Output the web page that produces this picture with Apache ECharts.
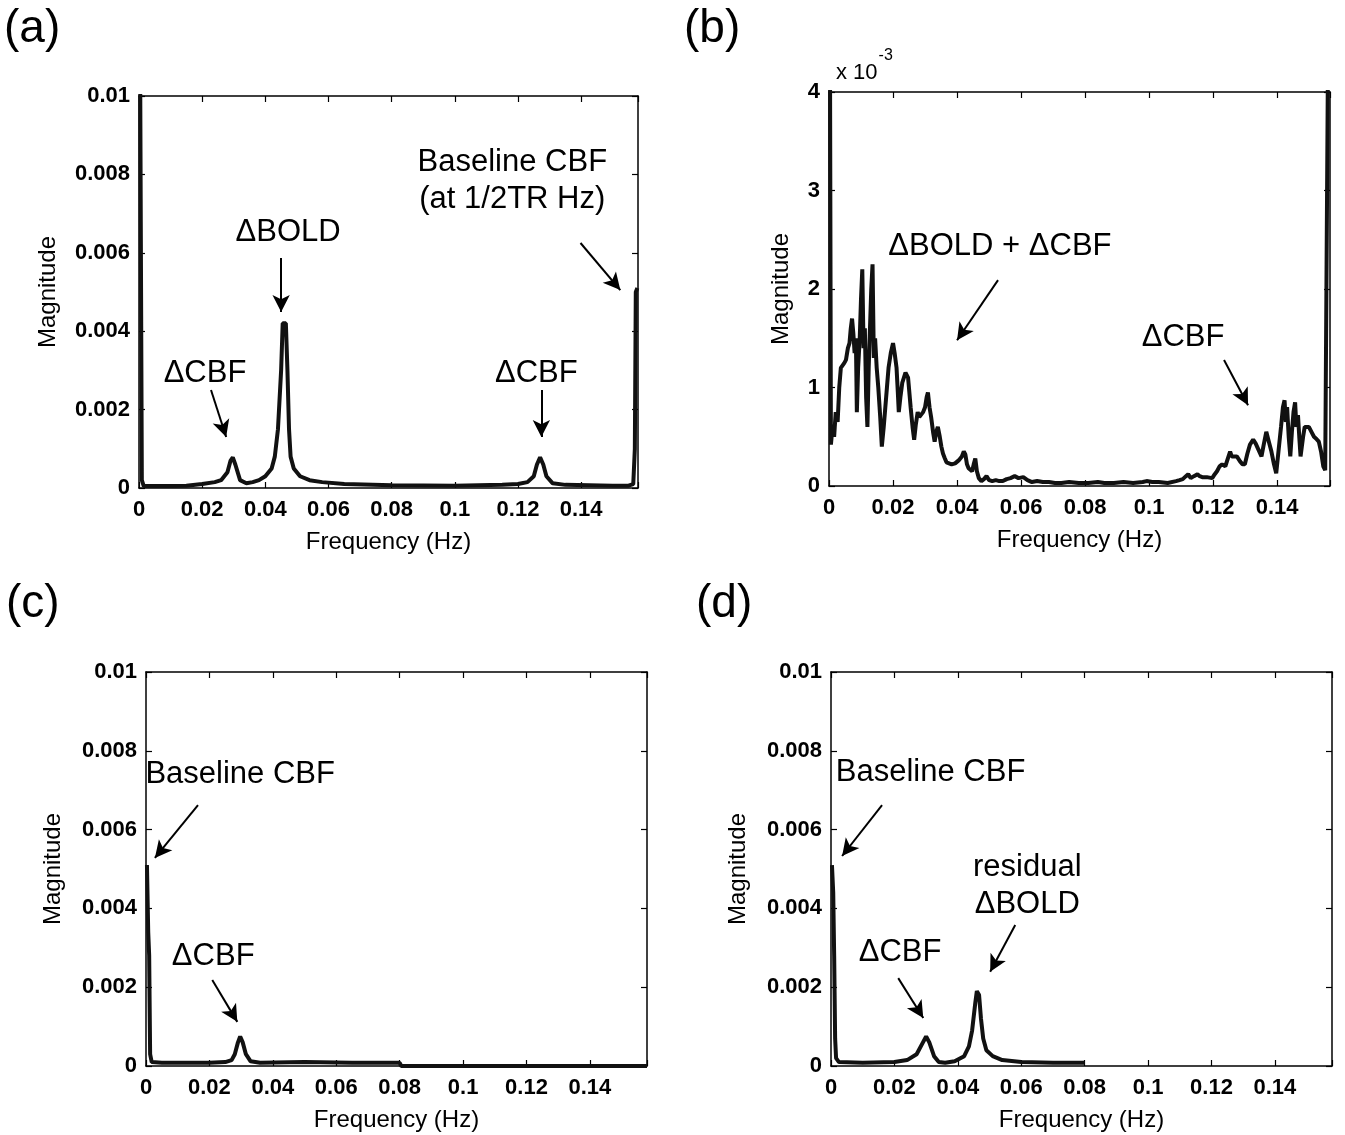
<!DOCTYPE html>
<html>
<head>
<meta charset="utf-8">
<title>Spectra</title>
<script src="https://cdn.jsdelivr.net/npm/echarts@6/dist/echarts.min.js"></script>
<style>
  html, body { margin: 0; padding: 0; background: #fff; }
  #chart { width: 1345px; height: 1135px; }
</style>
</head>
<body>
<div id="chart"></div>
<script>
// tick labels
const freqTicks = [0, 0.02, 0.04, 0.06, 0.08, 0.1, 0.12, 0.14]
const panelNames = ['(a)', '(b)', '(c)', '(d)']

// (a) raw spectrum
const freqA = [0.0003, 0.0006, 0.0009, 0.0015, 0.01, 0.015, 0.02, 0.024, 0.026, 0.028, 0.029, 0.0297, 0.0305, 0.032, 0.034,
  0.036, 0.038, 0.040, 0.042, 0.043, 0.044, 0.045, 0.0455, 0.0465, 0.047, 0.0475, 0.048, 0.049, 0.051, 0.054, 0.058,
  0.065, 0.08, 0.1, 0.115, 0.12, 0.123, 0.125, 0.126, 0.127, 0.128, 0.129, 0.131, 0.135, 0.15, 0.155, 0.1565, 0.157,
  0.1573, 0.1578]
const magA = [0.012, 0.012, 0.0002, 0.00005, 0.00005, 0.00006, 0.0001, 0.00015, 0.0002, 0.0004, 0.0007, 0.00078, 0.0006, 0.0002, 0.00012,
  0.00015, 0.0002, 0.0003, 0.0005, 0.0008, 0.0015, 0.003, 0.0042, 0.0042, 0.003, 0.0015, 0.0008, 0.0005, 0.0003, 0.0002, 0.00015,
  0.0001, 0.00007, 0.00006, 0.00008, 0.0001, 0.00015, 0.0003, 0.0006, 0.00078, 0.0006, 0.0003, 0.00012, 0.00008, 0.00006, 0.00006, 0.0001, 0.001,
  0.005, 0.0051]

// (b) magnitude in units of 1e-3
const freqB = [0.0003, 0.0006, 0.0011, 0.0016, 0.0021, 0.0027, 0.0032, 0.0037, 0.0043, 0.0048, 0.0053, 0.0059, 0.0064, 0.0068,
  0.0072, 0.0076, 0.0080, 0.0084, 0.0087, 0.0091, 0.0096, 0.0100, 0.0104, 0.0108, 0.0112, 0.0116, 0.0120, 0.0124, 0.0128,
  0.0132, 0.0136, 0.0140, 0.0144, 0.0149, 0.0154, 0.0160, 0.0165, 0.0171, 0.0176, 0.0181, 0.0186, 0.0193, 0.0200, 0.0205,
  0.0211, 0.0215, 0.0218, 0.0223, 0.0229, 0.0234, 0.0239, 0.0247, 0.0251, 0.0255, 0.0261, 0.0266, 0.0271, 0.0277, 0.0282,
  0.0287, 0.0294, 0.0300, 0.0305, 0.0309, 0.0314, 0.0319, 0.0325, 0.0330, 0.0335, 0.0340, 0.0346, 0.0351, 0.0356, 0.0362,
  0.0367, 0.0372, 0.0383, 0.0394, 0.0405, 0.0415, 0.0421, 0.0426, 0.0431, 0.0436, 0.0442, 0.0447, 0.0452, 0.0457, 0.0462,
  0.0468, 0.0476, 0.0484, 0.0492, 0.0500, 0.0510, 0.0521, 0.0532, 0.0543, 0.0555, 0.0567, 0.0580, 0.0592, 0.0607, 0.0620,
  0.0634, 0.0650, 0.0668, 0.0687, 0.0706, 0.0726, 0.0750, 0.0780, 0.0810, 0.0840, 0.0860, 0.0890, 0.0920, 0.0950, 0.0980,
  0.0992, 0.1010, 0.1030, 0.1058, 0.1084, 0.1095, 0.1105, 0.1115, 0.1122, 0.1130, 0.1140, 0.1151, 0.1158, 0.1166, 0.1180,
  0.1197, 0.1205, 0.1212, 0.1220, 0.1228, 0.1238, 0.1245, 0.1253, 0.1258, 0.1264, 0.1274, 0.1284, 0.1292, 0.1299, 0.1307,
  0.1315, 0.1325, 0.1333, 0.1340, 0.1351, 0.1358, 0.1366, 0.1374, 0.1382, 0.1390, 0.1397, 0.1404, 0.1412, 0.1418, 0.1423,
  0.1427, 0.1431, 0.1436, 0.1441, 0.1446, 0.1451, 0.1456, 0.1460, 0.1465, 0.1469, 0.1473, 0.1476, 0.1481, 0.1486, 0.1492,
  0.1499, 0.1507, 0.1515, 0.1522, 0.1530, 0.1537, 0.1544, 0.1550, 0.1556, 0.1559]
const magB = [4.5, 0.42, 0.6, 0.5, 0.75, 0.65, 1.0, 1.2, 1.22, 1.25, 1.28, 1.4, 1.45, 1.6,
  1.7, 1.55, 1.35, 1.5, 0.75, 1.2, 1.5, 1.9, 2.2, 1.4, 1.6, 0.9, 0.6, 1.2, 1.6,
  2.0, 2.25, 1.3, 1.5, 1.2, 1.0, 0.7, 0.4, 0.6, 0.8, 1.0, 1.2, 1.35, 1.45, 1.35,
  1.2, 0.95, 0.75, 0.9, 1.05, 1.1, 1.15, 1.1, 0.95, 0.8, 0.6, 0.47, 0.62, 0.75, 0.7,
  0.72, 0.75, 0.8, 0.9, 0.95, 0.8, 0.7, 0.55, 0.45, 0.55, 0.6, 0.5, 0.4, 0.33, 0.28,
  0.24, 0.22, 0.22, 0.23, 0.26, 0.3, 0.35, 0.32, 0.22, 0.18, 0.16, 0.15, 0.22, 0.28, 0.15,
  0.08, 0.05, 0.07, 0.1, 0.06, 0.05, 0.06, 0.05, 0.05, 0.07, 0.08, 0.1, 0.08, 0.09, 0.06,
  0.04, 0.05, 0.04, 0.04, 0.03, 0.03, 0.04, 0.03, 0.03, 0.04, 0.03, 0.03, 0.04, 0.03, 0.04,
  0.05, 0.04, 0.04, 0.03, 0.05, 0.06, 0.07, 0.1, 0.12, 0.08, 0.1, 0.12, 0.1, 0.09, 0.09,
  0.08, 0.12, 0.15, 0.2, 0.22, 0.2, 0.27, 0.35, 0.3, 0.28, 0.3, 0.25, 0.22, 0.22, 0.33,
  0.42, 0.47, 0.43, 0.38, 0.3, 0.42, 0.55, 0.45, 0.35, 0.22, 0.13, 0.35, 0.6, 0.8, 0.87,
  0.65, 0.8, 0.5, 0.3, 0.55, 0.75, 0.85, 0.6, 0.72, 0.5, 0.3, 0.28, 0.5, 0.6, 0.62,
  0.6, 0.55, 0.5, 0.48, 0.45, 0.35, 0.2, 0.16, 0.18, 4.5]

// (c) after filtering
const freqC = [0.0003, 0.0007, 0.001, 0.0013, 0.0018, 0.005, 0.02, 0.025, 0.027, 0.028, 0.029, 0.0297, 0.0305, 0.0315,
  0.033, 0.036, 0.05, 0.065, 0.08, 0.0805, 0.158]
const magC = [0.0051, 0.0034, 0.0028, 0.0003, 0.0001, 0.00008, 0.00008, 0.0001, 0.00015, 0.0003, 0.0006, 0.00075, 0.0006, 0.0003,
  0.00012, 0.00008, 0.0001, 0.00008, 0.00008, 0, 0]

// (d) after filtering, residual BOLD
const freqD = [0.0003, 0.0007, 0.001, 0.0013, 0.0016, 0.0025, 0.01, 0.02, 0.024, 0.027, 0.029, 0.03, 0.031, 0.0325, 0.034,
  0.036, 0.039, 0.042, 0.0435, 0.0445, 0.0455, 0.046, 0.0467, 0.0473, 0.048, 0.049, 0.051, 0.054, 0.06, 0.07, 0.08]
const magD = [0.0051, 0.0044, 0.0028, 0.0007, 0.0002, 0.0001, 0.00008, 0.0001, 0.00015, 0.0003, 0.0006, 0.00075, 0.0006, 0.00025, 0.0001,
  0.00008, 0.00012, 0.00025, 0.0005, 0.0009, 0.0016, 0.0019, 0.0018, 0.0012, 0.0007, 0.0004, 0.00025, 0.00015, 0.0001, 0.00008, 0.00008]

const FONT = 'Liberation Sans, Arial, sans-serif'

const grids = [
  { left: 139, top: 96, width: 499, height: 392 },
  { left: 829, top: 92, width: 501, height: 394 },
  { left: 146, top: 672, width: 501, height: 394 },
  { left: 831, top: 672, width: 501, height: 394 }
]
const xMax = [0.158, 0.1565, 0.158, 0.158]
const yRange = [[0.01, 0.002], [4, 1], [0.01, 0.002], [0.01, 0.002]]
const yNameGap = [79, 36, 81, 81]

function freqLabel (v) {
  const k = v / 0.02
  return Math.abs(k - Math.round(k)) < 1e-6 ? String(+v.toFixed(2)) : ''
}

const xAxes = []
const yAxes = []
grids.forEach((g, i) => {
  const tick = { show: true, inside: true, length: 6, lineStyle: { color: '#000', width: 1.2 } }
  const line = { show: true, onZero: false, lineStyle: { color: '#000', width: 1.5 } }
  xAxes.push({
    type: 'value', gridIndex: i, min: 0, max: xMax[i], interval: 0.02, position: 'bottom',
    name: 'Frequency (Hz)', nameLocation: 'middle', nameGap: 42,
    nameTextStyle: { fontFamily: FONT, fontSize: 24, color: '#000' },
    axisLine: line, axisTick: tick, splitLine: { show: false },
    axisLabel: { fontFamily: FONT, fontSize: 22, fontWeight: 'bold', color: '#000', margin: 11, formatter: freqLabel }
  })
  xAxes.push({
    type: 'value', gridIndex: i, min: 0, max: xMax[i], interval: 0.02, position: 'top',
    axisLine: line, axisTick: tick, splitLine: { show: false }, axisLabel: { show: false }
  })
  yAxes.push({
    type: 'value', gridIndex: i, min: 0, max: yRange[i][0], interval: yRange[i][1], position: 'left',
    name: 'Magnitude', nameLocation: 'middle', nameGap: yNameGap[i], nameRotate: 90,
    nameTextStyle: { fontFamily: FONT, fontSize: 24, color: '#000' },
    axisLine: line, axisTick: tick, splitLine: { show: false },
    axisLabel: { fontFamily: FONT, fontSize: 22, fontWeight: 'bold', color: '#000', margin: 9 }
  })
  yAxes.push({
    type: 'value', gridIndex: i, min: 0, max: yRange[i][0], interval: yRange[i][1], position: 'right',
    axisLine: line, axisTick: tick, splitLine: { show: false }, axisLabel: { show: false }
  })
})

function zip (xs, ys) {
  return xs.map((x, i) => [x, ys[i]])
}

// annotation text and arrows, in data coordinates of each panel
function notes (texts, arrows) {
  return {
    markPoint: {
      silent: true,
      symbol: 'circle',
      symbolSize: 1,
      itemStyle: { color: 'rgba(0,0,0,0)' },
      label: {
        show: true, position: 'inside', color: '#000', fontFamily: FONT, fontSize: 31, lineHeight: 37,
        formatter: p => p.name
      },
      data: texts.map(t => ({ name: t[0], coord: [t[1], t[2]] }))
    },
    markLine: {
      silent: true,
      symbol: ['none', 'arrow'],
      symbolSize: [13, 17],
      label: { show: false },
      lineStyle: { color: '#000', width: 2, type: 'solid' },
      data: arrows.map(a => [{ coord: [a[0], a[1]] }, { coord: [a[2], a[3]] }])
    }
  }
}

const lineStyle = { color: '#111', width: 4 }
const series = [
  Object.assign({
    type: 'line', xAxisIndex: 0, yAxisIndex: 0, data: zip(freqA, magA), showSymbol: false, symbol: 'none',
    lineStyle: lineStyle, clip: true
  }, notes(
    [['ΔCBF', 0.0209, 0.00293], ['ΔBOLD', 0.0472, 0.00653], ['ΔCBF', 0.1258, 0.00293],
      ['Baseline CBF\n(at 1/2TR Hz)', 0.1182, 0.00784]],
    [[0.0228, 0.0025, 0.0276, 0.0013], [0.045, 0.00587, 0.045, 0.00449], [0.1274, 0.0025, 0.1274, 0.0013],
      [0.1398, 0.00625, 0.1524, 0.00505]]
  )),
  Object.assign({
    type: 'line', xAxisIndex: 2, yAxisIndex: 2, data: zip(freqB, magB), showSymbol: false, symbol: 'none',
    lineStyle: lineStyle, clip: true
  }, notes(
    [['ΔBOLD + ΔCBF', 0.0534, 2.43], ['ΔCBF', 0.1106, 1.51]],
    [[0.0528, 2.09, 0.04, 1.48], [0.1234, 1.28, 0.1309, 0.82]]
  )),
  Object.assign({
    type: 'line', xAxisIndex: 4, yAxisIndex: 4, data: zip(freqC, magC), showSymbol: false, symbol: 'none',
    lineStyle: lineStyle, clip: true
  }, notes(
    [['Baseline CBF', 0.0297, 0.00739], ['ΔCBF', 0.0212, 0.00277]],
    [[0.0164, 0.00662, 0.0028, 0.00528], [0.0209, 0.00218, 0.0288, 0.00112]]
  )),
  Object.assign({
    type: 'line', xAxisIndex: 6, yAxisIndex: 6, data: zip(freqD, magD), showSymbol: false, symbol: 'none',
    lineStyle: lineStyle, clip: true
  }, notes(
    [['Baseline CBF', 0.0314, 0.00746], ['ΔCBF', 0.0218, 0.00287], ['residual\nΔBOLD', 0.0619, 0.00457]],
    [[0.0161, 0.00662, 0.0035, 0.00533], [0.0212, 0.00223, 0.0291, 0.00122], [0.0581, 0.00358, 0.0502, 0.00239]]
  ))
]

const titlePos = [[4, 6], [684, 6], [6, 581], [696, 581]]
const option = {
  animation: false,
  backgroundColor: '#fff',
  title: panelNames.map((n, i) => ({
    text: n, left: titlePos[i][0], top: titlePos[i][1], padding: 0,
    textStyle: { fontFamily: FONT, fontSize: 46, fontWeight: 'normal', color: '#000' }
  })),
  grid: grids,
  xAxis: xAxes,
  yAxis: yAxes,
  series: series,
  graphic: [{
    type: 'text', left: 836, top: 48,
    style: {
      text: '{b|x 10}{s|-3}',
      rich: {
        b: { fontFamily: FONT, fontSize: 22, fill: '#000', padding: [14, 1, 0, 0] },
        s: { fontFamily: FONT, fontSize: 16, fill: '#000', verticalAlign: 'top' }
      }
    }
  }]
}

const chart = echarts.init(document.getElementById('chart'))
chart.setOption(option)
</script>
</body>
</html>
